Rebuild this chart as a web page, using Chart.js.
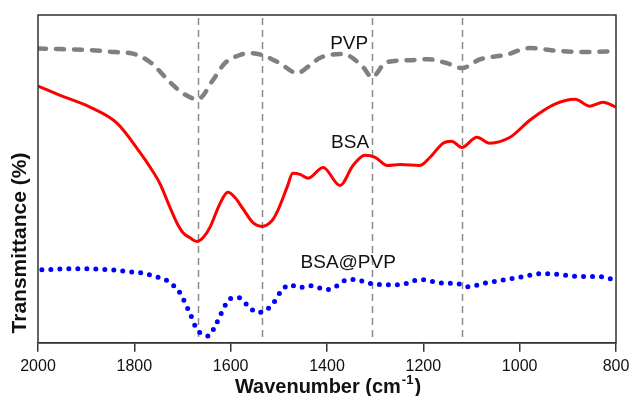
<!DOCTYPE html>
<html>
<head>
<meta charset="utf-8">
<script src="https://cdn.jsdelivr.net/npm/chart.js@4"></script>
<style>
  body { margin: 0; background: #fff; }
  #wrap { width: 630px; height: 396px; position: relative; }
</style>
</head>
<body>
<div id="wrap"><canvas id="ftir"></canvas></div>
<script>
// === FTIR spectra ===
const pvpWave = [2000, 1954, 1892, 1840, 1809, 1767, 1726, 1699, 1668, 1637, 1612, 1581, 1560, 1535, 1498, 1462, 1435, 1415, 1367, 1325, 1307, 1277, 1228, 1190, 1151, 1120, 1082, 1030, 979, 916, 860, 800];
const pvpT    = [89.8, 89.6, 89.3, 88.7, 88.4, 85.6, 79.5, 76.1, 74.3, 80.1, 85.3, 87.8, 88.4, 87.8, 85.3, 82.3, 84.7, 86.9, 88.1, 84.1, 81.0, 85.6, 86.2, 86.5, 85.3, 83.8, 86.5, 87.8, 89.9, 89.0, 88.7, 89.0];

const bsaWave = [2000, 1954, 1892, 1836, 1788, 1767, 1747, 1726, 1711, 1699, 1685, 1670, 1657, 1643, 1622, 1606, 1591, 1575, 1554, 1535, 1514, 1502, 1483, 1471, 1456, 1439, 1408, 1373, 1346, 1321, 1300, 1275, 1248, 1207, 1186, 1159, 1141, 1120, 1089, 1062, 1020, 979, 927, 885, 854, 827, 800];
const bsaT    = [78.3, 75.5, 71.9, 67.0, 58.0, 53.5, 48.6, 41.3, 36.4, 33.6, 32.1, 30.9, 32.1, 35.2, 42.5, 45.9, 44.3, 41.0, 36.7, 35.5, 37.3, 40.4, 47.4, 51.7, 51.4, 50.2, 53.5, 48.0, 54.1, 57.2, 56.6, 54.1, 54.4, 54.1, 56.6, 60.9, 61.5, 59.6, 62.7, 60.9, 62.7, 67.9, 72.8, 74.3, 72.2, 73.4, 71.9];

const mixWave = [1992, 1913, 1851, 1813, 1776, 1757, 1736, 1718, 1703, 1693, 1684, 1676, 1664, 1645, 1633, 1624, 1614, 1601, 1583, 1564, 1545, 1525, 1508, 1496, 1477, 1458, 1435, 1400, 1379, 1363, 1342, 1307, 1248, 1207, 1165, 1128, 1109, 1068, 1030, 993, 954, 916, 875, 833, 800];
const mixT    = [22.3, 22.6, 22.3, 21.7, 21.1, 20.2, 19.3, 17.4, 14.7, 11.6, 8.9, 5.8, 3.1, 2.1, 4.9, 7.6, 10.7, 13.5, 13.8, 11.3, 9.2, 10.1, 12.8, 15.6, 17.7, 16.8, 17.4, 16.2, 17.4, 19.0, 19.3, 18.0, 17.7, 19.3, 18.3, 18.0, 17.1, 18.3, 19.3, 20.2, 21.1, 20.8, 20.2, 20.2, 19.0];

const markerWave = [1668, 1534, 1307, 1119];   // dashed guide lines
const labelText = ["PVP", "BSA", "BSA@PVP"];
const labelWave = [1354, 1352, 1356];
const labelT    = [91.2, 60.9, 24.5];

const FONT = "'Liberation Sans', Arial, sans-serif";

function pts(xs, ys) {
  return xs.map((x, i) => ({ x: x, y: ys[i] }));
}

// guide lines, frame, labels and axis titles
const decor = {
  id: "decor",
  beforeDatasetsDraw(chart) {
    const { ctx, chartArea: a, scales } = chart;
    ctx.save();
    ctx.strokeStyle = "#8a8a8a";
    ctx.lineWidth = 1.5;
    ctx.setLineDash([7, 5]);
    markerWave.forEach(w => {
      const x = Math.round(scales.x.getPixelForValue(w)) + 0.5;
      ctx.beginPath();
      ctx.moveTo(x, a.top + 3);
      ctx.lineTo(x, a.bottom - 3);
      ctx.stroke();
    });
    ctx.restore();
  },
  afterDraw(chart) {
    const { ctx, chartArea: a, scales } = chart;
    ctx.save();
    // frame
    ctx.strokeStyle = "#333";
    ctx.lineWidth = 1.5;
    ctx.strokeRect(a.left, a.top, a.right - a.left, a.bottom - a.top);

    // curve labels
    ctx.fillStyle = "#111";
    ctx.font = "19px " + FONT;
    ctx.textAlign = "center";
    ctx.textBaseline = "middle";
    labelText.forEach((t, i) => {
      ctx.fillText(t, scales.x.getPixelForValue(labelWave[i]), scales.y.getPixelForValue(labelT[i]));
    });

    // x title with superscript
    const main = "Wavenumber (cm", sup = "-1", tail = ")";
    ctx.textAlign = "left";
    ctx.textBaseline = "alphabetic";
    ctx.font = "bold 20px " + FONT;
    const w1 = ctx.measureText(main).width, w3 = ctx.measureText(tail).width;
    ctx.font = "bold 13px " + FONT;
    const w2 = ctx.measureText(sup).width;
    let x = (a.left + a.right) / 2 - (w1 + w2 + w3) / 2;
    const base = 393;
    ctx.font = "bold 20px " + FONT;
    ctx.fillText(main, x, base);
    ctx.font = "bold 13px " + FONT;
    ctx.fillText(sup, x + w1 + 1, base - 9);
    ctx.font = "bold 20px " + FONT;
    ctx.fillText(tail, x + w1 + w2 + 2, base);

    // y title
    ctx.font = "bold 21px " + FONT;
    ctx.translate(20, 243);
    ctx.rotate(-Math.PI / 2);
    ctx.textAlign = "center";
    ctx.textBaseline = "middle";
    ctx.fillText("Transmittance (%)", 0, 0);
    ctx.restore();
  }
};

new Chart(document.getElementById("ftir"), {
  type: "line",
  data: {
    datasets: [
      {
        label: "PVP",
        data: pts(pvpWave, pvpT),
        borderColor: "#808080",
        borderWidth: 4.5,
        borderDash: [8, 10],
        borderCapStyle: "round",
        cubicInterpolationMode: "monotone",
        pointRadius: 0
      },
      {
        label: "BSA",
        data: pts(bsaWave, bsaT),
        borderColor: "#ff0000",
        borderWidth: 3,
        cubicInterpolationMode: "monotone",
        pointRadius: 0
      },
      {
        label: "BSA@PVP",
        data: pts(mixWave, mixT),
        borderColor: "#0000ff",
        borderWidth: 5,
        borderDash: [0, 9],
        borderCapStyle: "round",
        cubicInterpolationMode: "monotone",
        pointRadius: 0
      }
    ]
  },
  plugins: [decor],
  options: {
    responsive: true,
    maintainAspectRatio: false,
    animation: false,
    layout: { padding: { left: 38, right: 14, top: 15, bottom: 15 } },
    plugins: {
      legend: { display: false },
      tooltip: { enabled: false }
    },
    scales: {
      x: {
        type: "linear",
        reverse: true,
        min: 800,
        max: 2000,
        afterFit: s => { s.paddingLeft = 0; s.paddingRight = 0; },
        ticks: {
          stepSize: 200,
          color: "#111",
          font: { family: FONT, size: 16 },
          padding: 5,
          callback: v => String(v)
        },
        grid: { drawOnChartArea: false, drawTicks: true, tickLength: 9, color: "#333", lineWidth: 1.5 },
        border: { display: true, color: "#333", width: 1.5 }
      },
      y: {
        display: false,
        min: 0,
        max: 100
      }
    }
  }
});
</script>
</body>
</html>
